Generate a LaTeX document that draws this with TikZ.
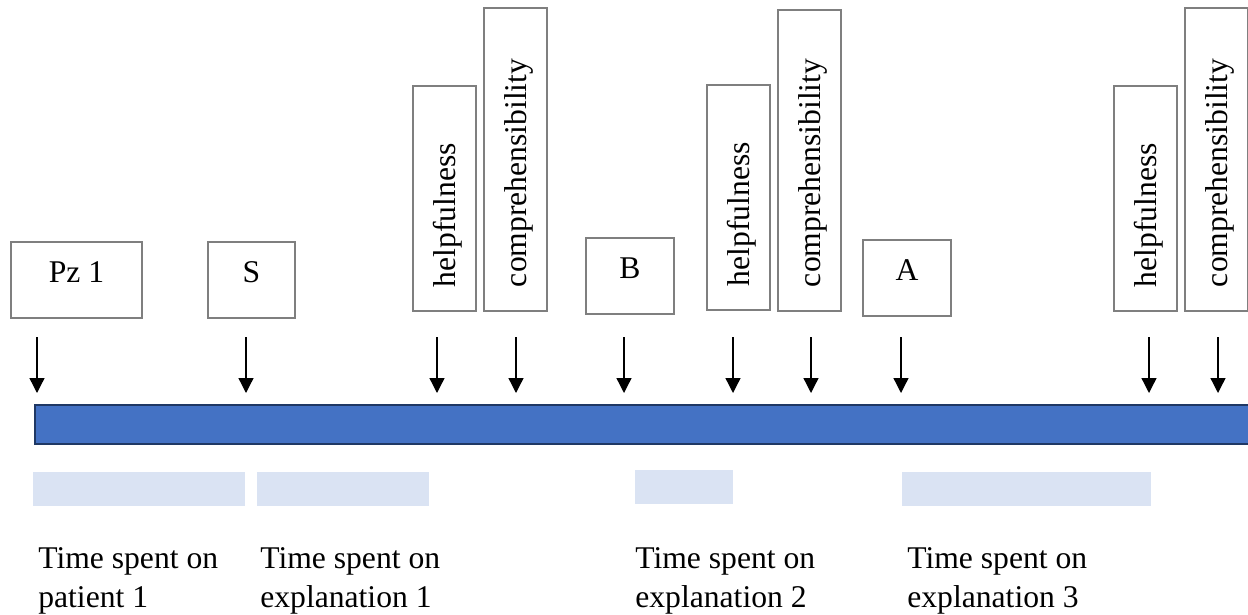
\documentclass[tikz,border=0pt]{standalone}
\usepackage{fontspec}
\setmainfont{Liberation Serif}
\usepackage{tikz}
\usetikzlibrary{arrows.meta}
\definecolor{boxgrey}{HTML}{7F7F7F}
\definecolor{barblue}{HTML}{4472C4}
\definecolor{barnavy}{HTML}{1F3864}
\definecolor{spanblue}{HTML}{DAE3F3}
\tikzset{
    bigfont/.style={font=\fontsize{18}{22.1}\selectfont},
    markbox/.style={rectangle, draw=boxgrey, line width=1.1pt, fill=white, inner sep=0pt, text height=0.82cm, text depth=0.70cm, anchor=north west, bigfont},
    ratebox/.style={rectangle, draw=boxgrey, line width=1.1pt, fill=white, rotate=90, inner ysep=0pt, inner xsep=0.48cm, text height=0.86cm, text depth=0.40cm, align=left, anchor=north west, bigfont},
    timebar/.style={rectangle, draw=barnavy, line width=1.2pt, fill=barblue, inner sep=0pt, minimum height=0.78cm, anchor=north west},
    spanbar/.style={rectangle, fill=spanblue, inner sep=0pt, minimum height=0.68cm, anchor=north west},
    timelabel/.style={align=left, inner sep=0pt, anchor=base west, bigfont},
    downarrow/.style={-{Triangle[width=0.3cm, length=0.3cm]}, line width=0.75pt, draw=black, shorten >=0.22cm}
}
\begin{document}
\begin{tikzpicture}[x=0.02cm, y=-0.02cm]
    \useasboundingbox (0,0) rectangle (1248,615);
    \node[markbox, minimum width=2.62cm] (pz) at (10,241) {Pz 1};
    \node[markbox, minimum width=1.74cm] (s) at (207,241) {S};
    \node[markbox, minimum width=1.76cm] (b) at (585,237) {B};
    \node[markbox, minimum width=1.76cm] (a) at (862,239) {A};
    \node[ratebox, text width=3.54cm] (help1) at (412,312) {helpfulness};
    \node[ratebox, text width=5.10cm] (comp1) at (483,312) {comprehensibility};
    \node[ratebox, text width=3.54cm] (help2) at (706,311) {helpfulness};
    \node[ratebox, text width=5.06cm] (comp2) at (777,312) {comprehensibility};
    \node[ratebox, text width=3.54cm] (help3) at (1113,312) {helpfulness};
    \node[ratebox, text width=5.10cm] (comp3) at (1184,312) {comprehensibility};
    \node[timebar, minimum width=24.8cm] (bar) at (34,404) {};
    \foreach \x [count=\i] in {37,246,437,516,624,733,811,901,1149,1218} {
        \coordinate (tick\i) at (\x,337);
        \draw[downarrow] (tick\i) -- (tick\i |- bar.north);
    }
    \node[spanbar, minimum width=4.24cm] (span1) at (33,472) {};
    \node[spanbar, minimum width=3.44cm] (span2) at (257,472) {};
    \node[spanbar, minimum width=1.96cm] (span3) at (635,470) {};
    \node[spanbar, minimum width=4.98cm] (span4) at (902,472) {};
    \node[timelabel] (lab1) at (38,607) {Time spent on\\patient 1};
    \node[timelabel] (lab2) at (260,607) {Time spent on\\explanation 1};
    \node[timelabel] (lab3) at (635,607) {Time spent on\\explanation 2};
    \node[timelabel] (lab4) at (907,607) {Time spent on\\explanation 3};
\end{tikzpicture}
\end{document}
